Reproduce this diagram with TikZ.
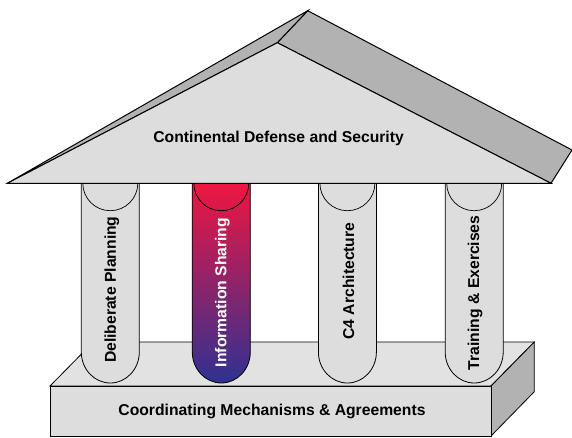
\documentclass[tikz,border=0pt]{standalone}
\usepackage{fontspec}
\setmainfont{Liberation Sans}
\definecolor{facegray}{HTML}{DDDDDD}
\definecolor{topgray}{HTML}{E2E2E2}
\definecolor{sidegray}{HTML}{B2B2B2}
\definecolor{infored}{HTML}{EE1641}
\definecolor{infoblue}{HTML}{2F3192}
\tikzset{
  shape line/.style={draw=black, line width=0.8pt, line join=miter},
  roof line/.style={draw=black, line width=1pt, line join=miter},
  label text/.style={font=\fontsize{15.7}{18}\selectfont\bfseries, inner sep=0pt},
  pillar text/.style={label text, rotate=90, anchor=center},
}
\newcommand{\pillarbody}[2]{% #1 left x, #2 style
  \path[#2] (#1,253.7) -- (#1,85) arc[start angle=180, end angle=360, x radius=29, y radius=31] -- (#1+58,253.7) -- cycle;
  \draw[line width=0.8pt] (#1+58,253.7) -- (#1+58,85) arc[start angle=0, end angle=-180, x radius=29, y radius=31] -- (#1,253.7);
  \draw[line width=0.7pt] (#1+1.5,253.7) arc[start angle=180, end angle=360, x radius=27.5, y radius=27.4];
}
\begin{document}
\begin{tikzpicture}[x=1pt,y=1pt]
\useasboundingbox (0,0) rectangle (572,437);
% base
\path[shape line, fill=topgray] (50,51) -- (93.3,95) -- (534.3,95) -- (491,51) -- cycle;
\path[shape line, fill=sidegray] (491,51) -- (534.3,95) -- (534.3,45.3) -- (491,1) -- cycle;
\path[shape line, fill=facegray] (50,1) rectangle (491,51);
% pillars
\pillarbody{81.3}{fill=facegray}
\pillarbody{192.3}{top color=infored, bottom color=infoblue}
\pillarbody{318.4}{fill=facegray}
\pillarbody{445.2}{fill=facegray}
% roof
\path[roof line, fill=sidegray] (277.3,394.3) -- (307.7,426.3) -- (572,287) -- (551,253.7) -- cycle;
\path[roof line, fill=sidegray] (7.3,253.7) -- (307.7,426.3) -- (277.3,394.3) -- cycle;
\path[roof line, fill=facegray] (7.3,253.7) -- (277.3,394.3) -- (551,253.7) -- cycle;
% texts
\node[label text, anchor=base] (roof) at (278.6,294.7) {Continental Defense and Security};
\node[label text, anchor=base] (base) at (272,22) {Coordinating Mechanisms \& Agreements};
\node[pillar text] (p1) at (111.8,147.3) {Deliberate Planning};
\node[pillar text, text=white] (p2) at (222.3,144.5) {Information Sharing};
\node[pillar text] (p3) at (348.5,156) {C4 Architecture};
\node[pillar text] (p4) at (475.2,144.2) {Training \& Exercises};
\end{tikzpicture}
\end{document}
